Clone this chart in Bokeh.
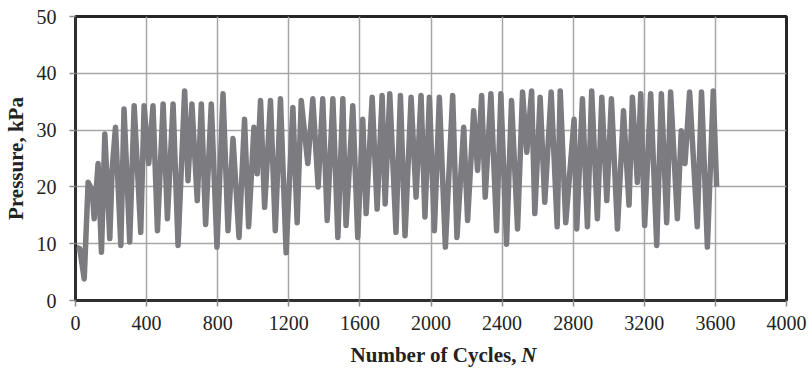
from bokeh.plotting import figure
from bokeh.models import Range1d, FixedTicker
from bokeh.layouts import column
from bokeh.core.properties import value
from bokeh.embed import file_html
from bokeh.resources import INLINE

# Data (turning points of the pressure trace)
cycles = [5, 24, 49, 71, 94, 105, 127, 146, 165, 193, 206, 225, 255, 273, 305, 330,
          367, 386, 412, 436, 461, 493, 517, 549, 577, 614, 633, 655, 685, 708, 732,
          764, 796, 830, 858, 886, 920, 951, 974, 1004, 1022, 1041, 1064, 1097, 1124,
          1153, 1185, 1223, 1247, 1270, 1307, 1335, 1365, 1391, 1416, 1448, 1476, 1504,
          1522, 1560, 1588, 1616, 1635, 1669, 1697, 1725, 1742, 1768, 1803, 1828, 1854,
          1888, 1916, 1944, 1966, 1991, 2019, 2047, 2081, 2122, 2146, 2184, 2206, 2240,
          2262, 2285, 2305, 2337, 2369, 2393, 2425, 2453, 2487, 2515, 2539, 2566, 2584,
          2614, 2640, 2676, 2710, 2727, 2758, 2805, 2820, 2852, 2880, 2904, 2936, 2961,
          2989, 3015, 3049, 3083, 3114, 3133, 3161, 3180, 3202, 3236, 3270, 3296, 3326,
          3348, 3386, 3408, 3429, 3455, 3498, 3522, 3555, 3588, 3607]
pressure = [9.4, 9.1, 3.8, 20.8, 19.4, 14.4, 24.1, 8.5, 29.3, 10.9, 23.0, 30.5, 9.7,
            33.7, 10.3, 34.3, 12.0, 34.3, 24.1, 34.3, 12.3, 34.6, 14.4, 34.6, 9.7, 36.9,
            21.1, 34.6, 17.6, 34.6, 13.4, 34.6, 9.4, 36.4, 12.3, 28.5, 11.1, 31.9, 13.0,
            30.5, 22.3, 35.2, 16.4, 35.2, 12.3, 35.5, 8.4, 34.0, 13.7, 35.2, 24.1, 35.5,
            20.0, 35.5, 14.1, 35.5, 11.1, 35.5, 13.2, 34.3, 11.1, 31.9, 15.3, 35.8, 16.1,
            36.1, 17.0, 36.4, 12.0, 36.1, 11.4, 35.8, 18.2, 36.1, 14.7, 35.8, 12.3, 35.8,
            9.4, 36.1, 11.1, 30.5, 14.1, 33.4, 22.9, 36.1, 18.2, 36.4, 12.3, 36.4, 9.9,
            35.2, 12.6, 36.7, 26.1, 36.9, 15.3, 35.8, 17.3, 36.7, 13.0, 36.9, 13.7, 31.9,
            12.6, 35.5, 13.0, 36.9, 14.4, 35.8, 17.6, 35.5, 12.6, 33.4, 16.8, 35.8, 20.8,
            36.4, 13.2, 36.4, 9.7, 36.4, 13.7, 36.7, 14.4, 29.9, 24.1, 36.7, 13.0, 36.7,
            9.4, 36.9, 20.0]
x_ticks = [0, 400, 800, 1200, 1600, 2000, 2400, 2800, 3200, 3600, 4000]
y_ticks = [0, 10, 20, 30, 40, 50]
x_title = ["Number of Cycles,", "N"]
y_title = "Pressure, kPa"

FONT = "Liberation Serif"
TXT = "#222222"
W = 812

p = figure(width=W, height=336, output_backend="svg", toolbar_location=None,
           x_range=Range1d(0, 4000), y_range=Range1d(0, 50),
           min_border_left=75, min_border_right=26, min_border_top=16,
           min_border_bottom=36)
p.background_fill_color = "white"
p.border_fill_color = "white"
p.outline_line_color = "#262626"
p.outline_line_width = 3

p.line(cycles, pressure, line_color="#7b7b80", line_width=5.5, line_join="round")

for ax, ticks in ((p.xaxis, x_ticks), (p.yaxis, y_ticks)):
    ax.ticker = FixedTicker(ticks=ticks)
    ax.minor_tick_line_color = None
    ax.major_tick_out = 6
    ax.major_tick_in = 0
    ax.major_tick_line_color = "#8c8c8c"
    ax.major_tick_line_width = 1.5
    ax.axis_line_color = "#333333"
    ax.axis_line_width = 2
    ax.major_label_text_font = FONT
    ax.major_label_text_font_size = "20px"
    ax.major_label_text_color = TXT

p.xaxis.major_label_standoff = 9
p.yaxis.major_label_standoff = 13
p.yaxis.axis_label = y_title
p.yaxis.axis_label_text_font = FONT
p.yaxis.axis_label_text_font_size = "21px"
p.yaxis.axis_label_text_font_style = "bold"
p.yaxis.axis_label_text_color = TXT
p.yaxis.axis_label_standoff = 6

p.xgrid.ticker = FixedTicker(ticks=x_ticks)
p.ygrid.ticker = FixedTicker(ticks=y_ticks)
for g in (p.xgrid, p.ygrid):
    g.grid_line_color = "#a6a6a6"
    g.grid_line_width = 1.5

# Strip below holding the x-axis title (bold, with an italic "N")
H2 = 31
lab = figure(width=W, height=H2, output_backend="svg", toolbar_location=None,
             x_range=Range1d(0, W), y_range=Range1d(0, H2),
             x_axis_type=None, y_axis_type=None, min_border=0)
lab.outline_line_color = None
lab.background_fill_color = "white"
lab.border_fill_color = "white"
lab.text(x=[504], y=[13], text=[x_title[0]], text_align="right",
         text_baseline="middle", text_font=value(FONT), text_font_size="21px",
         text_font_style="bold", text_color=TXT)
lab.text(x=[509], y=[13], text=[x_title[1]], text_align="left",
         text_baseline="middle", text_font=value(FONT), text_font_size="21px",
         text_font_style="bold italic", text_color=TXT)

open("out.html", "w").write(file_html(column(p, lab, spacing=0), INLINE))
